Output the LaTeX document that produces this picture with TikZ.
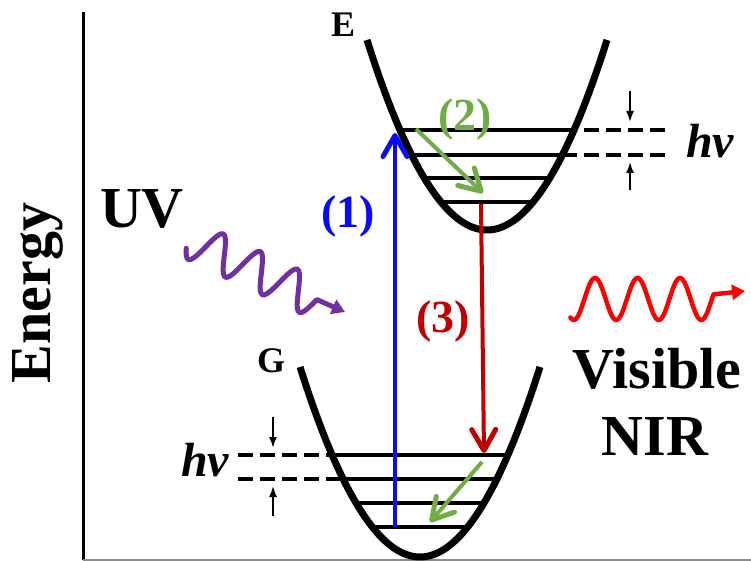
\documentclass[tikz,border=0pt]{standalone}
\usepackage{fontspec}
\setmainfont{Liberation Serif}
\usepackage{xcolor}
\usetikzlibrary{arrows.meta}

\definecolor{absblue}{RGB}{10,10,245}
\definecolor{relaxgreen}{RGB}{112,173,71}
\definecolor{emitred}{RGB}{192,0,0}
\definecolor{uvpurple}{RGB}{112,48,160}
\definecolor{visred}{RGB}{255,0,0}

\begin{document}
\begin{tikzpicture}[x=1pt, y=-1pt,
    well/.style={line width=7pt},
    level/.style={line width=3.5pt},
    gap/.style={line width=3.5pt, dash pattern=on 15pt off 7pt},
    tick/.style={-{Latex[length=11pt,width=8pt]}, line width=1.8pt},
    trans/.style={-{Straight Barb[length=21pt,width=24pt,line width=5pt,round]}, line width=4pt},
    big/.style={font=\fontsize{58}{60}\selectfont\bfseries, inner sep=0pt, anchor=base},
    tag/.style={font=\fontsize{46}{48}\selectfont\bfseries, inner sep=0pt, anchor=base},
    state/.style={font=\fontsize{36}{38}\selectfont\bfseries, inner sep=0pt, anchor=base},
    hvlabel/.style={font=\fontsize{48}{50}\selectfont\bfseries\itshape, inner sep=0pt, anchor=base},
    wave/.style={line width=5pt, line cap=round, line join=round, -{Triangle[length=13pt,width=15pt]}}]
    \useasboundingbox (0,0) rectangle (751,561);

    % energy axis
    \draw [line width=3pt] (83,12) -- (83,560);
    \draw [line width=1.5pt, black!45] (83,560) -- (751,560);
    \node [big, rotate=90] (energy) at (50,293) {Energy};

    % excited state E
    \draw [well] plot[domain=367:607, samples=80] (\x,{230-0.0132*(\x-487)^2});
    \draw [level] (400,130) -- (574,130);
    \draw [level] (411.6,155) -- (562.4,155);
    \draw [level] (424.2,178) -- (549.8,178);
    \draw [level] (440.9,202) -- (533.1,202);
    \draw [gap] (665,130) -- (574,130);
    \draw [gap] (665,155) -- (562.4,155);
    \node [state] (lblE) at (343,37) {E};

    % ground state G
    \draw [well] plot[domain=300:540, samples=80] (\x,{557-0.0132*(\x-420)^2});
    \draw [level] (332.1,455) -- (507.9,455);
    \draw [level] (343.1,479) -- (496.9,479);
    \draw [level] (356,503) -- (484,503);
    \draw [level] (372.3,527) -- (467.7,527);
    \draw [gap] (238,455) -- (332.1,455);
    \draw [gap] (238,479) -- (343.1,479);
    \node [state] (lblG) at (271,372) {G};

    % level spacing hv
    \coordinate (eTopA) at (630,91);  \coordinate (eTopB) at (630,122);
    \coordinate (eBotA) at (630,190); \coordinate (eBotB) at (630,162);
    \coordinate (gTopA) at (273,417); \coordinate (gTopB) at (273,448);
    \coordinate (gBotA) at (273,516); \coordinate (gBotB) at (273,486);
    \draw [tick] (eTopA) -- (eTopB);
    \draw [tick] (eBotA) -- (eBotB);
    \draw [tick] (gTopA) -- (gTopB);
    \draw [tick] (gBotA) -- (gBotB);
    \node [hvlabel] (hvE) at (710,158) {hv};
    \node [hvlabel] (hvG) at (205,476) {hv};

    % transitions
    \coordinate (g0) at (395,527);  \coordinate (e3) at (395,133);
    \coordinate (e3r) at (416,129); \coordinate (e0r) at (483,193);
    \coordinate (e0) at (481,204);  \coordinate (g3) at (484,453);
    \coordinate (g3r) at (482,462); \coordinate (g0r) at (430,522);
    \draw [trans, absblue] (g0) -- (e3);
    \draw [trans, relaxgreen] (e3r) -- (e0r);
    \draw [trans, emitred] (e0) -- (g3);
    \draw [trans, relaxgreen] (g3r) -- (g0r);
    \node [tag, absblue] (one) at (348,227) {(1)};
    \node [tag, relaxgreen] (two) at (465,131) {(2)};
    \node [tag, emitred] (three) at (443,332) {(3)};

    % light in and out
    \node [big] (uv) at (142,227) {UV};
    \coordinate (uvEnd) at (345,312);
    \draw [wave, uvpurple] plot[domain=-17:123, samples=140, smooth]
        ({205.8+0.903*\x+8.17*sin(8.7805*\x)}, {246.7+0.43*\x-17.16*sin(8.7805*\x)}) -- (uvEnd);
    \coordinate (visEnd) at (745,291);
    \draw [wave, visred, line width=4.5pt] plot[domain=-14:129, samples=140, smooth]
        ({584.4+\x}, {299-21*sin(8.4706*\x)}) -- (visEnd);
    \node [big] (visible) at (657,388) {Visible};
    \node [big] (nir) at (655,455) {NIR};
\end{tikzpicture}
\end{document}
